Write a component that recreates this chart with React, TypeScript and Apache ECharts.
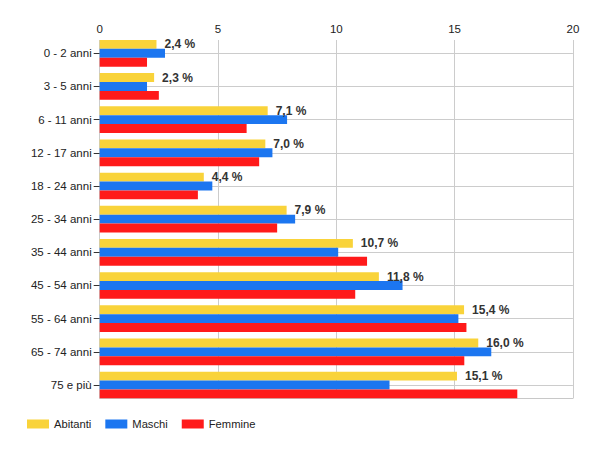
import React, { useEffect, useRef } from 'react';
import * as echarts from 'echarts';

const categories = [
  '0 - 2 anni', '3 - 5 anni', '6 - 11 anni', '12 - 17 anni', '18 - 24 anni',
  '25 - 34 anni', '35 - 44 anni', '45 - 54 anni', '55 - 64 anni', '65 - 74 anni', '75 e più',
];
const abitanti = [2.4, 2.3, 7.1, 7.0, 4.4, 7.9, 10.7, 11.8, 15.4, 16.0, 15.1];
const maschi = [2.76, 2.0, 7.92, 7.3, 4.76, 8.26, 10.08, 12.8, 15.16, 16.55, 12.25];
const femmine = [2.0, 2.5, 6.21, 6.74, 4.15, 7.5, 11.3, 10.8, 15.5, 15.41, 17.65];
const seriesNames = ['Abitanti', 'Maschi', 'Femmine'];
const colors = ['#F9D33A', '#1C76F0', '#FF1A1A'];
const xMin = 0;
const xMax = 20;
const xInterval = 5;

const FONT = 'Arial, "Liberation Sans", sans-serif';

export default function App() {
  const ref = useRef<HTMLDivElement>(null);
  useEffect(() => {
    document.body.style.margin = '0';
    if (!ref.current) return;
    const chart = echarts.init(ref.current, undefined, { renderer: 'svg' });
    const gridLeft = 99.7;
    const gridRight = 27.1;
    const barW = 8.9;
    const option: any = {
      animation: false,
      backgroundColor: '#ffffff',
      textStyle: { fontFamily: FONT },
      color: colors,
      legend: {
        left: 27,
        top: 417,
        padding: 0,
        icon: 'rect',
        itemWidth: 22,
        itemHeight: 9,
        itemGap: 14,
        data: seriesNames,
        textStyle: { fontSize: 11.2, color: '#222', fontFamily: FONT, lineHeight: 14 },
      },
      grid: [
        // frame grid (vertical gridlines, top axis)
        { left: gridLeft, right: gridRight, top: 40, bottom: 51.7, containLabel: false },
        // bars grid (category centers at first/last ticks)
        { left: gridLeft, right: gridRight, top: 53.3, bottom: 65, containLabel: false },
      ],
      xAxis: [
        {
          gridIndex: 0,
          type: 'value',
          position: 'top',
          min: xMin,
          max: xMax,
          interval: xInterval,
          axisLine: { show: true, lineStyle: { color: '#c8c8c8', width: 1 } },
          axisTick: { show: false },
          axisLabel: { color: '#222', fontSize: 11.5, margin: 5, fontFamily: FONT },
          splitLine: { show: true, lineStyle: { color: '#cccccc', width: 1 } },
        },
        {
          gridIndex: 1,
          type: 'value',
          min: xMin,
          max: xMax,
          interval: xInterval,
          show: false,
        },
      ],
      yAxis: [
        { gridIndex: 0, type: 'value', show: false },
        {
          gridIndex: 1,
          type: 'category',
          inverse: true,
          boundaryGap: false,
          data: categories,
          axisLine: { show: false },
          axisTick: { show: true, length: 6, lineStyle: { color: '#333', width: 1 } },
          axisLabel: { color: '#222', fontSize: 11.5, margin: 8, fontFamily: FONT },
          splitLine: { show: true, lineStyle: { color: '#cccccc', width: 1 } },
        },
      ],
      series: [
        {
          name: seriesNames[0],
          type: 'bar',
          xAxisIndex: 1,
          yAxisIndex: 1,
          data: abitanti,
          barWidth: barW,
          barGap: '0%',
          clip: false,
          label: {
            show: true,
            position: 'right',
            distance: 8,
            color: '#333',
            fontWeight: 'bold',
            fontSize: 12,
            fontFamily: FONT,
            formatter: (p: any) => Number(p.value).toFixed(1).replace('.', ',') + ' %',
          },
        },
        {
          name: seriesNames[1],
          type: 'bar',
          xAxisIndex: 1,
          yAxisIndex: 1,
          data: maschi,
          barWidth: barW,
          barGap: '0%',
          clip: false,
        },
        {
          name: seriesNames[2],
          type: 'bar',
          xAxisIndex: 1,
          yAxisIndex: 1,
          data: femmine,
          barWidth: barW,
          barGap: '0%',
          clip: false,
        },
      ],
    };
    chart.setOption(option);
    return () => chart.dispose();
  }, []);
  return <div ref={ref} style={{ width: 600, height: 450 }} />;
}
